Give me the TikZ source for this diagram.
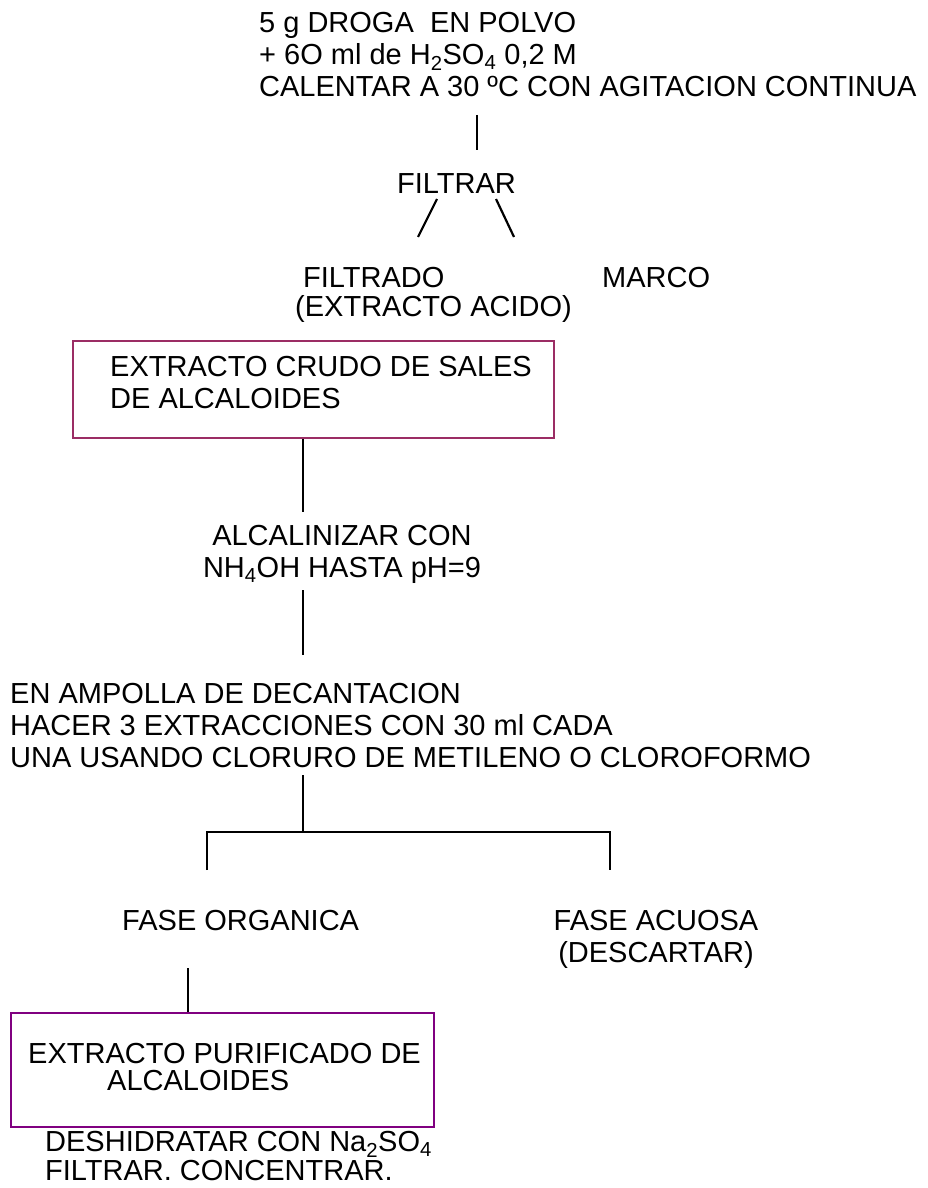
\documentclass[tikz,border=0pt]{standalone}
\usepackage{fontspec}
\setmainfont{Liberation Sans}
\definecolor{crudocol}{RGB}{155,45,100}
\definecolor{puricol}{RGB}{128,0,128}
\tikzset{
  txt/.style={font=\fontsize{29}{32}\selectfont, inner sep=0pt, align=left, anchor=north west},
  ctxt/.style={txt, align=center, anchor=north},
  conn/.style={line width=2.2pt, black},
  caja/.style={line width=2.3pt, draw, inner sep=0pt, anchor=north west}
}

\begin{document}
\begin{tikzpicture}[x=1pt,y=-1pt]
  \useasboundingbox (0,0) rectangle (928,1188);
  \fill[white] (0,0) rectangle (928,1188);

  %starting mixture
  \node[txt] (mezcla) at (259,12) {5 g DROGA\ \ EN POLVO\\+ 6O ml de H\textsubscript{2}SO\textsubscript{4} 0,2 M\\CALENTAR A 30 ºC CON AGITACION CONTINUA};
  \node[txt] (filtrar) at (397,173) {FILTRAR};
  \node[txt, font=\fontsize{29}{29}\selectfont] (filtrado) at (295,267) {\hspace*{8pt}FILTRADO\\(EXTRACTO ACIDO)};
  \node[txt] (marco) at (602,267) {MARCO};

  \coordinate (m1) at (477,115);
  \coordinate (m2) at (477,150);
  \draw[conn] (m1) -- (m2);
  \coordinate (f1) at (437,199);
  \coordinate (f2) at (418,237);
  \coordinate (f3) at (496,199);
  \coordinate (f4) at (514,237);
  \draw[conn] (f1) -- (f2);
  \draw[conn] (f3) -- (f4);

  %crude extract
  \node[caja, draw=crudocol, minimum width=481pt, minimum height=97pt] (crudo) at (72,340) {};
  \node[txt] (crudotxt) at (110,356) {EXTRACTO CRUDO DE SALES\\DE ALCALOIDES};

  \node[ctxt] (alcalin) at (342,525) {ALCALINIZAR CON\\NH\textsubscript{4}OH HASTA pH=9};
  \coordinate (a1) at (303,512);
  \coordinate (a2) at (303,590);
  \coordinate (a3) at (303,655);
  \draw[conn] (crudo.south -| a1) -- (a1);
  \draw[conn] (a2) -- (a3);

  %liquid-liquid extraction
  \node[txt] (ampolla) at (10,683) {EN AMPOLLA DE DECANTACION\\HACER 3 EXTRACCIONES CON 30 ml CADA\\UNA USANDO CLORURO DE METILENO O CLOROFORMO};
  \coordinate (e1) at (303,775);
  \coordinate (e2) at (303,832);
  \coordinate (o1) at (207,832);
  \coordinate (o2) at (207,870);
  \coordinate (q1) at (610,832);
  \coordinate (q2) at (610,870);
  \draw[conn] (e1) -- (e2);
  \draw[conn] (o2) -- (o1) -- (q1) -- (q2);

  \node[txt] (organica) at (122,910) {FASE ORGANICA};
  \node[ctxt] (acuosa) at (656,910) {FASE ACUOSA\\(DESCARTAR)};

  %purified extract
  \coordinate (p1) at (188,968);
  \node[caja, draw=puricol, minimum width=423pt, minimum height=114pt] (puro) at (10,1012) {};
  \draw[conn] (p1) -- (puro.north -| p1);
  \node[txt, font=\fontsize{29}{27}\selectfont] (purotxt) at (28,1043) {EXTRACTO PURIFICADO DE\\\hspace*{79pt}ALCALOIDES};
  \node[txt, font=\fontsize{29}{29}\selectfont] (deshid) at (45,1131) {DESHIDRATAR CON Na\textsubscript{2}SO\textsubscript{4}\\FILTRAR. CONCENTRAR.};
\end{tikzpicture}
\end{document}
